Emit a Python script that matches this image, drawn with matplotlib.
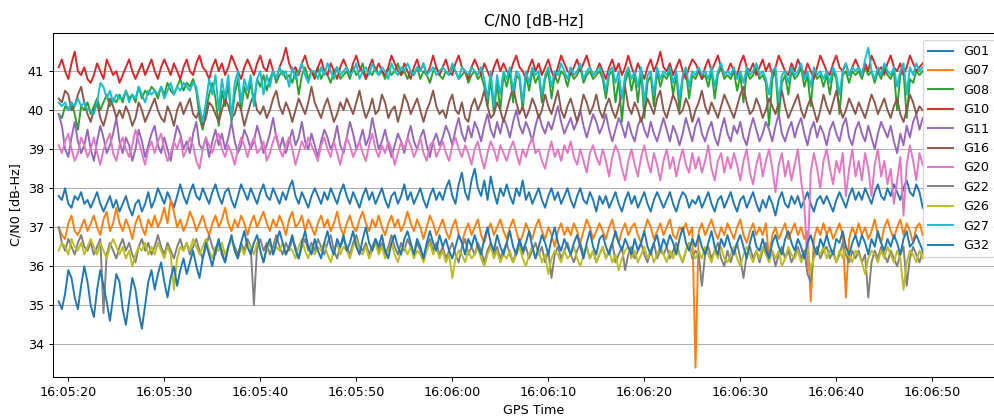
import numpy as np
import matplotlib
matplotlib.use("Agg")
import matplotlib.pyplot as plt
from matplotlib.ticker import FuncFormatter, FixedLocator

# C/N0 values coded as tenths of dB above 33.0 dB-Hz, one sample every 1/3 s from 16:05:19
START_S = 19.0          # seconds after 16:05:00
RATE_HZ = 3.0
BASE_DB = 33.0

G01_codes = """
48 47 50 46 45 48 47 49 46 47  45 47 49 46 44 46 48 45 47 44  46 48 45 43 46 47 44 46 49 45
47 50 48 46 49 47 45 48 51 48  46 49 51 48 47 50 48 46 49 51  48 46 49 50 47 45 48 51 49 47
50 48 46 49 51 48 47 50 48 46  49 47 50 52 48 46 49 47 45 48  50 48 46 49 47 50 48 46 49 51
48 46 49 47 45 48 50 47 49 46  48 50 47 45 48 49 46 48 51 47  49 46 48 50 47 45 48 50 47 49
47 50 52 48 46 51 54 49 47 52  55 50 48 52 47 53 49 46 50 48  51 48 46 50 48 52 47 49 46 48
50 47 45 48 50 47 49 46 48 50  47 45 48 50 47 46 49 47 44 48  46 48 45 47 49 46 44 47 49 46
48 45 47 49 46 44 47 49 47 45  47 49 46 44 47 49 48 45 47 46  48 45 47 49 46 44 47 48 45 47
49 46 44 47 48 45 47 49 46 44  47 45 48 46 43 47 49 46 45 48  46 48 45 47 49 46 44 47 48 46
48 46 44 47 49 47 45 48 50 47  49 47 50 48 46 49 51 48 47 50  48 51 49 47 50 52 49 48 51 49
45
"""

G07_codes = """
40 38 37 41 43 39 38 40 42 39  41 43 40 38 42 44 39 41 45 41  39 42 40 37 41 43 40 38 42 40
43 40 42 45 41 47 44 40 42 39  41 44 42 39 41 43 40 38 41 43  40 42 45 41 39 42 40 43 41 38
41 43 40 42 44 41 39 42 40 43  41 38 42 44 40 41 43 39 42 40  38 41 43 40 42 39 41 44 40 38
41 43 40 39 42 44 41 39 42 40  43 40 38 41 43 40 42 39 41 44  41 39 42 40 37 40 43 41 38 40
42 39 37 40 42 38 36 39 41 38  40 42 38 36 39 41 38 40 42 39  37 40 42 39 36 38 41 39 37 40
42 39 37 40 38 35 39 41 38 40  38 41 39 36 39 42 40 37 39 41  39 37 40 42 38 36 39 41 38 40
41 38 36 39 42 40 37 39 41 38  40 42 38 37 40 39 41 38 40 04  39 41 38 40 42 39 37 40 38 41
39 37 40 42 38 36 39 41 38 40  38 41 32 38 40 37 39 41 37 39  41 38 40 37 39 21 37 40 38 41
38 40 37 39 41 38 22 37 40 38  41 38 40 37 39 42 38 36 40 42  39 37 40 42 38 41 39 36 40 41
38
"""

G08_codes = """
69 68 71 70 72 69 65 71 70 72  69 71 73 70 72 74 71 73 72 74  72 75 73 74 72 76 73 75 74 76
75 73 76 74 77 75 74 76 78 75  77 76 78 75 68 65 70 74 77 73  66 75 71 77 67 74 78 70 76 73
77 72 78 76 79 75 78 80 77 79  80 78 79 77 80 74 79 81 78 80  79 81 78 80 79 77 80 81 78 79
80 78 81 79 80 82 78 80 79 81  79 80 78 81 79 80 82 79 80 78  80 79 81 78 80 79 77 80 81 79
78 80 79 81 80 78 79 80 77 79  80 78 79 76 71 78 69 77 70 79  76 80 72 79 78 70 79 75 80 77
79 72 78 80 73 79 77 80 79 76  80 78 79 81 77 79 80 78 79 80  78 73 79 80 72 78 67 77 80 75
79 72 80 68 77 79 71 80 76 79  78 80 74 79 70 78 80 73 79 78  80 78 79 76 80 73 79 81 78 79
78 80 75 79 72 80 78 79 81 78  79 77 66 78 80 68 77 79 74 80  78 79 81 76 79 71 80 78 79 76
79 74 80 78 69 79 80 77 80 79  80 78 81 79 80 77 80 78 81 79  78 80 70 79 80 68 78 77 80 79
80
"""

G10_codes = """
81 83 80 78 82 85 80 79 81 78  77 79 82 80 78 83 81 79 80 77  79 81 83 80 78 80 82 79 81 83
80 78 81 83 81 79 82 80 78 81  83 80 79 82 84 81 80 78 81 83  80 82 79 81 84 82 80 78 81 83
81 79 82 84 81 80 83 80 78 81  83 86 82 80 81 79 82 84 81 80  78 81 83 80 79 82 80 78 81 83
81 79 82 84 81 80 78 81 83 80  82 80 79 81 84 82 80 79 82 80  78 81 83 80 82 79 81 84 81 79
81 83 80 79 82 84 81 80 78 81  83 81 79 82 80 78 81 83 80 82  80 79 82 84 81 80 78 81 83 80
82 79 81 83 80 78 81 84 82 80  79 81 83 80 82 84 81 79 80 82  80 78 81 83 80 82 79 81 84 81
79 82 80 78 81 83 80 82 85 81  80 82 79 81 83 80 78 81 83 82  80 78 81 83 80 82 84 81 79 80
82 80 79 82 84 81 80 82 79 81  83 80 82 79 81 84 82 80 79 82  80 83 81 79 82 80 78 81 84 82
80 79 82 84 81 80 82 79 81 83  81 79 82 80 84 82 80 81 79 82  84 81 80 82 79 81 84 82 80 81
82
"""

G11_codes = """
69 66 60 58 63 67 62 59 61 65  60 57 62 66 63 59 61 64 68 62  59 63 61 57 60 65 62 58 61 64
66 61 59 63 60 57 62 66 64 60  62 59 64 67 61 60 63 58 62 65  61 64 60 63 67 62 59 61 65 63
60 62 66 63 59 61 64 68 63 60  63 59 62 65 61 63 67 62 60 64  61 58 62 65 63 60 62 66 61 59
63 67 64 60 62 65 61 63 68 64  60 62 65 61 58 61 64 62 59 63  66 62 60 63 65 61 58 62 64 61
63 66 64 61 65 68 64 62 66 63  67 65 62 66 69 65 63 67 64 68  66 63 67 70 66 64 67 65 62 66
69 66 64 67 65 68 71 67 64 66  68 65 67 70 66 63 66 69 67 64  66 69 65 62 65 68 66 63 67 64
62 66 68 65 63 67 64 62 65 68  65 62 66 64 61 64 68 65 62 66  68 64 62 65 67 63 61 65 68 64
62 66 64 67 63 61 65 68 65 62  64 67 65 62 66 69 64 62 65 67  63 66 68 64 61 65 67 63 66 64
61 65 67 64 62 66 68 63 61 65  67 64 62 66 63 60 64 67 65 63  66 62 59 64 61 66 63 67 69 65
68
"""

G16_codes = """
73 72 75 74 70 71 74 76 72 69  67 70 72 68 66 69 73 71 68 70  68 71 69 66 68 72 70 67 69 71
73 70 68 67 71 69 66 70 72 69  71 73 69 68 70 66 68 72 71 69  67 70 73 71 68 69 72 70 66 69
72 74 70 69 71 68 70 73 75 71  69 72 70 67 70 73 71 69 72 76  72 70 68 71 73 70 67 69 72 70
73 71 69 72 75 71 68 70 73 69  70 74 72 68 70 71 67 70 74 72  69 71 73 70 67 70 72 75 71 69
70 68 72 74 70 69 72 68 67 71  73 70 72 75 71 68 69 72 70 67  70 73 76 72 69 71 68 70 73 71
68 70 74 71 69 72 75 70 68 71  73 70 67 70 74 72 69 71 74 70  68 71 73 70 68 71 74 76 71 69
72 70 67 70 73 71 69 73 75 70  68 71 74 72 69 70 73 71 67 70  72 75 71 69 72 70 68 71 74 72
70 68 71 74 76 72 69 70 73 71  68 70 73 71 69 72 75 71 68 70  72 74 70 68 71 73 70 67 70 74
71 69 72 75 71 68 70 73 71 69  72 70 68 71 74 72 69 71 73 70  68 71 73 69 67 70 74 72 69 71
70
"""

G20_codes = """
61 59 62 64 60 57 59 63 61 58  60 63 59 56 60 62 64 59 57 61  63 60 58 61 65 62 59 56 60 62
59 62 64 60 57 59 62 60 63 58  60 63 61 57 55 60 63 61 59 62  64 60 58 61 59 56 60 63 61 58
61 63 59 60 62 57 59 62 64 60  58 61 63 60 56 59 62 60 63 61  59 57 61 63 60 58 62 59 56 60
63 61 58 60 62 59 57 61 64 60  58 61 59 62 60 56 59 62 60 63  61 58 60 63 59 57 61 62 58 60
62 59 57 61 63 60 58 61 59 56  60 62 58 55 59 62 60 57 61 59  57 60 62 59 56 60 58 61 63 59
60 57 55 59 62 58 60 57 61 59  62 58 56 60 57 54 59 61 58 56  60 57 53 58 61 59 55 52 57 60
56 53 58 61 57 54 59 56 52 57  60 55 58 53 57 60 56 54 59 55  58 54 57 61 55 52 57 59 54 58
55 59 56 52 57 60 54 51 56 59  53 57 60 55 49 56 59 53 57 52  56 60 52 46 30 54 59 55 50 57
60 55 51 57 54 59 48 55 60 53  57 52 59 55 48 56 60 53 57 51  55 46 52 58 43 56 61 57 52 59
56
"""

G22_codes = """
40 36 34 37 35 33 36 38 35 34  36 33 35 37 18 33 36 34 32 35  37 34 36 33 31 35 37 34 36 33
35 38 35 33 36 34 32 35 37 34  36 33 35 37 34 32 35 38 35 33  36 34 31 35 37 35 33 36 34 37
35 20 35 37 34 36 33 35 38 35  33 36 34 37 35 32 35 37 34 36  34 37 35 33 36 38 34 32 35 37
35 33 36 38 35 34 36 33 35 37  34 36 33 35 38 35 33 36 34 37  35 33 36 34 32 35 37 34 36 33
35 32 34 36 33 31 35 37 33 35  33 36 34 31 34 36 33 35 32 34  36 33 31 34 36 33 35 32 34 36
33 35 31 34 27 33 35 32 34 36  33 31 34 36 33 35 32 34 31 33  35 32 34 36 31 33 35 29 33 35
32 34 36 33 31 34 36 32 34 33  35 32 34 36 33 31 34 36 32 34  33 25 33 35 32 34 36 32 30 34
31 34 36 32 27 33 35 32 34 31  34 36 32 34 30 33 35 32 34 31  33 35 32 34 28 26 33 35 32 34
35 32 34 31 33 36 33 31 34 32  34 31 33 22 31 34 32 35 33 31  34 32 30 33 35 25 32 35 33 31
34
"""

G26_codes = """
34 36 35 33 37 35 34 36 33 35  37 35 33 36 34 32 35 37 35 33  35 32 34 30 33 35 34 36 33 35
33 36 34 32 35 33 24 32 35 34  36 34 37 35 33 35 37 34 32 35  34 36 33 35 37 34 32 35 33 36
35 33 36 34 31 34 36 33 35 34  36 33 35 34 32 35 37 34 32 35  33 35 34 36 33 31 34 36 33 35
34 32 35 37 34 33 35 32 34 36  33 35 32 34 36 33 31 34 35 33  35 32 34 33 31 34 36 33 35 32
34 31 33 27 32 34 33 31 34 32  33 35 32 30 33 35 32 34 31 33  32 34 31 33 35 32 30 33 35 32
34 31 33 28 32 34 33 31 34 32  33 35 32 30 33 35 32 34 31 33  35 32 34 31 33 29 32 34 35 32
34 31 33 35 32 34 31 33 35 33  31 34 32 35 33 31 34 36 33 32  34 32 35 33 31 34 32 35 32 31
33 35 32 30 33 35 33 31 34 32  35 33 31 34 32 34 30 32 35 33  32 34 31 33 35 29 32 34 33 35
32 34 33 31 34 32 35 33 31 34  33 31 28 32 34 33 31 34 32 35  33 31 34 32 24 31 34 33 31 34
32
"""

G27_codes = """
72 71 72 70 72 71 73 71 72 70  70 69 72 77 76 73 75 72 74 73  73 75 72 74 73 76 74 72 75 74
75 74 76 73 75 77 74 76 75 77  76 75 77 76 71 67 72 78 74 79  70 78 73 79 68 77 80 72 78 75
79 71 78 80 74 79 76 80 78 81  79 80 76 81 78 80 82 79 77 80  80 78 81 79 82 80 78 81 79 80
81 79 80 82 78 80 81 79 82 80  79 81 80 78 82 80 79 81 80 82  80 79 81 80 82 79 80 81 79 80
81 80 79 82 80 78 81 80 79 81  80 79 81 78 73 80 71 79 74 80  78 81 75 80 79 72 80 77 81 79
80 74 79 81 76 80 79 82 80 78  81 79 80 82 78 80 81 79 80 81  79 75 80 81 77 80 73 79 81 78
80 76 81 72 79 80 74 81 78 80  79 81 77 80 73 79 81 76 80 79  81 79 80 78 81 76 80 82 79 80
79 81 78 80 77 81 79 80 82 79  80 78 74 80 81 72 79 80 77 81  79 80 82 78 80 76 81 79 80 78
80 77 81 79 74 80 82 79 81 80  81 79 83 86 80 78 81 79 82 80  79 81 76 80 82 74 81 79 82 80
81
"""

G32_codes = """
21 19 23 29 27 22 19 25 30 26  20 17 24 29 25 21 16 22 28 26  19 15 21 27 24 18 14 20 26 29
24 28 31 26 22 27 30 25 29 32  28 31 34 30 27 32 36 33 30 34  37 33 31 35 38 34 32 36 39 35
33 36 38 34 31 35 37 33 36 39  36 33 35 38 34 32 36 39 35 33  37 34 32 36 39 35 33 37 35 38
34 36 39 35 33 37 40 36 34 37  35 38 34 32 36 38 35 33 37 39  36 33 37 35 32 36 39 36 34 38
35 37 34 32 35 38 36 33 37 35  38 35 33 37 40 36 34 38 35 33  36 39 35 33 37 34 36 39 35 32
35 38 36 33 37 40 36 34 37 35  33 36 38 35 32 36 39 35 33 37  38 35 33 36 39 36 34 37 35 33
37 34 36 39 35 33 36 38 34 37  35 38 36 33 37 40 36 34 37 35  38 35 33 36 39 35 33 37 35 38
35 33 36 38 35 32 36 39 35 34  37 34 32 36 38 35 33 37 39 36  34 37 35 32 36 38 35 33 37 35
38 35 33 37 36 39 35 33 36 38  35 38 36 33 37 35 39 36 34 37  35 38 36 33 37 39 35 36 38 36
34
"""

SERIES_NAMES = ["G01", "G07", "G08", "G10", "G11", "G16", "G20", "G22", "G26", "G27", "G32"]
SERIES_CODES = [G01_codes, G07_codes, G08_codes, G10_codes, G11_codes, G16_codes,
                G20_codes, G22_codes, G26_codes, G27_codes, G32_codes]

XTICKS_S = [20, 30, 40, 50, 60, 70, 80, 90, 100, 110]
YTICKS = [34, 35, 36, 37, 38, 39, 40, 41]


def decode(s):
    return np.array([BASE_DB + int(c) / 10.0 for c in s.split()])


def fmt_time(v, pos=None):
    v = int(round(v))
    return f"16:{5 + v // 60:02d}:{v % 60:02d}"


DPI = 92
fig = plt.figure(figsize=(994 / DPI, 417 / DPI), dpi=DPI)
W, H = 994.0, 417.0
ax_left, ax_right = 53.0, 1015.0
ax_top, ax_bottom = 33.3, 376.7
ax = fig.add_axes([ax_left / W, 1 - ax_bottom / H, (ax_right - ax_left) / W, (ax_bottom - ax_top) / H])

for name, codes in zip(SERIES_NAMES, SERIES_CODES):
    vals = decode(codes)
    t = START_S + np.arange(len(vals)) / RATE_HZ
    ax.plot(t, vals, label=name, linewidth=1.5)

px_per_s = 9.6
x0 = 20 - (68.3 - ax_left) / px_per_s
ax.set_xlim(x0, x0 + (ax_right - ax_left) / px_per_s)
ax.set_ylim(33.17, 41.97)
ax.xaxis.set_major_locator(FixedLocator(XTICKS_S))
ax.xaxis.set_major_formatter(FuncFormatter(fmt_time))
ax.set_yticks(YTICKS)
ax.grid(axis="y", color="#b0b0b0", linewidth=0.8)
ax.set_title("C/N0 [dB-Hz]")
ax.set_xlabel("GPS Time")
ax.set_ylabel("C/N0 [dB-Hz]")

ax.legend(loc="upper left", bbox_to_anchor=(922.7 / W, 1 - 40 / H),
          bbox_transform=fig.transFigure, borderaxespad=0.0)

fig.savefig("out.png", dpi=DPI)
